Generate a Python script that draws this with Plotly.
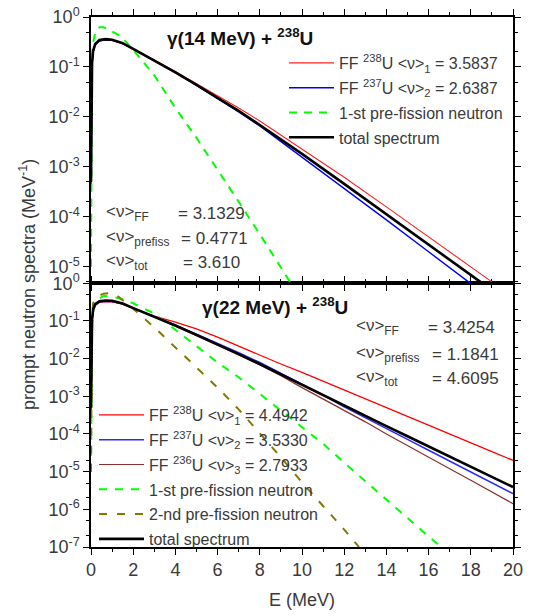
import plotly.graph_objects as go

# ---------------- data ----------------
# top panel: gamma(14 MeV) + 238U
E_top = [0, 0.02, 0.05, 0.1, 0.2, 0.4, 0.7, 1.0, 1.5, 2, 3, 4, 5, 6, 7, 8, 10, 12, 14, 16, 18, 18.6]
top_total = [5e-4, 0.04, 0.12, 0.21, 0.29, 0.345, 0.36, 0.35, 0.30, 0.229, 0.135, 0.0776, 0.0437, 0.024,
             0.0132, 6.9e-3, 1.82e-3, 4.57e-4, 1.12e-4, 2.75e-5, 6.8e-6, 4.5e-6]
E_top_red = [0, 0.02, 0.05, 0.1, 0.2, 0.4, 0.7, 1.0, 1.5, 2, 3, 4, 5, 6, 7, 8, 10, 12, 14, 16, 18, 19]
top_ff238 = [4e-4, 0.035, 0.11, 0.19, 0.27, 0.33, 0.345, 0.34, 0.29, 0.225, 0.138, 0.0813, 0.0468, 0.0269,
             0.0151, 8.3e-3, 2.29e-3, 6.2e-4, 1.58e-4, 3.98e-5, 1.0e-5, 5.0e-6]
E_top_blue = [0, 0.02, 0.05, 0.1, 0.2, 0.4, 0.7, 1.0, 1.5, 2, 3, 4, 5, 6, 7, 8, 10, 12, 14, 16, 18]
top_ff237 = [4e-4, 0.035, 0.11, 0.2, 0.28, 0.335, 0.35, 0.345, 0.295, 0.228, 0.135, 0.0776, 0.0427, 0.0234,
             0.0126, 6.6e-3, 1.58e-3, 3.7e-4, 8.7e-5, 2.0e-5, 4.6e-6]
E_top_pre1 = [0, 0.02, 0.05, 0.1, 0.2, 0.4, 0.6, 0.8, 1.0, 1.3, 1.6, 2, 3, 4, 5, 6, 7, 8, 9, 9.5]
top_pre1 = [1e-5, 0.03, 0.15, 0.3, 0.48, 0.62, 0.62, 0.57, 0.51, 0.44, 0.34, 0.22, 0.068, 0.0151,
            3.8e-3, 8.9e-4, 2.0e-4, 4.5e-5, 1.0e-5, 4.5e-6]

# bottom panel: gamma(22 MeV) + 238U
E_bot = [0, 0.02, 0.05, 0.1, 0.2, 0.4, 0.7, 1.0, 1.5, 2, 3, 4, 5, 6, 7, 8, 9, 10, 11, 12, 13, 14, 15,
         16, 17, 18, 19, 20]
bot_total = [5e-4, 0.04, 0.11, 0.2, 0.28, 0.335, 0.35, 0.345, 0.29, 0.219, 0.132, 0.0759, 0.0427, 0.024,
             0.0132, 7.2e-3, 3.8e-3, 2.0e-3, 1.05e-3, 5.6e-4, 3.0e-4, 1.62e-4, 8.7e-5, 4.7e-5,
             2.5e-5, 1.35e-5, 7.2e-6, 3.9e-6]
bot_ff238 = [4e-4, 0.035, 0.1, 0.18, 0.26, 0.31, 0.325, 0.32, 0.28, 0.215, 0.135, 0.0933, 0.0617, 0.0372,
             0.0214, 0.0126, 7.2e-3, 4.3e-3, 2.5e-3, 1.48e-3, 8.7e-4, 5.0e-4, 2.95e-4, 1.7e-4,
             1.0e-4, 5.9e-5, 3.4e-5, 2.0e-5]
bot_ff237 = [4e-4, 0.035, 0.1, 0.19, 0.27, 0.32, 0.335, 0.33, 0.285, 0.22, 0.132, 0.0776, 0.0447, 0.0257,
             0.0145, 7.9e-3, 4.1e-3, 2.1e-3, 1.07e-3, 5.25e-4, 2.75e-4, 1.41e-4, 7.2e-5, 3.7e-5,
             1.9e-5, 9.8e-6, 5.0e-6, 2.6e-6]
bot_ff236 = [4e-4, 0.035, 0.1, 0.19, 0.27, 0.325, 0.34, 0.335, 0.285, 0.22, 0.13, 0.0724, 0.0407, 0.0229,
             0.0126, 6.8e-3, 3.5e-3, 1.7e-3, 8.5e-4, 4.2e-4, 2.1e-4, 1.0e-4, 5.0e-5, 2.45e-5,
             1.2e-5, 5.9e-6, 2.9e-6, 1.41e-6]
E_bot_pre1 = [0, 0.02, 0.05, 0.1, 0.3, 0.6, 1.0, 1.5, 2, 3, 4, 5, 6, 7, 8, 9, 10, 11, 12, 13, 14, 15,
              16, 16.6]
bot_pre1 = [1e-5, 0.01, 0.08, 0.18, 0.37, 0.46, 0.45, 0.37, 0.295, 0.158, 0.0575, 0.0219, 7.9e-3,
            3.2e-3, 1.15e-3, 4.2e-4, 1.5e-4, 5.5e-5, 1.74e-5, 5.6e-6, 1.8e-6, 5.75e-7, 1.9e-7, 1.0e-7]
E_bot_pre2 = [0, 0.02, 0.05, 0.1, 0.3, 0.6, 0.9, 1.2, 1.5, 2, 3, 4, 5, 6, 7, 8, 9, 10, 11, 12, 12.7]
bot_pre2 = [1e-5, 0.02, 0.12, 0.3, 0.45, 0.53, 0.55, 0.49, 0.36, 0.21, 0.068, 0.02, 6.0e-3, 1.7e-3,
            4.5e-4, 1.05e-4, 2.4e-5, 5.2e-6, 1.26e-6, 2.9e-7, 1.0e-7]

x_ticks = [0, 2, 4, 6, 8, 10, 12, 14, 16, 18, 20]
top_yticks = [1, 1e-1, 1e-2, 1e-3, 1e-4, 1e-5]
top_ytext = ["10<sup>0</sup>", "10<sup>-1</sup>", "10<sup>-2</sup>", "10<sup>-3</sup>",
             "10<sup>-4</sup>", "10<sup>-5</sup>"]
bot_yticks = [1, 1e-1, 1e-2, 1e-3, 1e-4, 1e-5, 1e-6, 1e-7]
bot_ytext = ["10<sup>0</sup>", "10<sup>-1</sup>", "10<sup>-2</sup>", "10<sup>-3</sup>",
             "10<sup>-4</sup>", "10<sup>-5</sup>", "10<sup>-6</sup>", "10<sup>-7</sup>"]

NU = "&lt;ν&gt;"
top_names = [f"FF <sup>238</sup>U {NU}<sub>1</sub> = 3.5837",
             f"FF <sup>237</sup>U {NU}<sub>2</sub> = 2.6387",
             "1-st pre-fission neutron", "total spectrum"]
bot_names = [f"FF <sup>238</sup>U {NU}<sub>1</sub> = 4.4942",
             f"FF <sup>237</sup>U {NU}<sub>2</sub> = 3.5330",
             f"FF <sup>236</sup>U {NU}<sub>3</sub> = 2.7933",
             "1-st pre-fission neutron", "2-nd pre-fission neutron", "total spectrum"]
top_nu_labels = [f"{NU}<sub>FF</sub>", f"{NU}<sub>prefiss</sub>", f"{NU}<sub>tot</sub>"]
top_nu_values = ["= 3.1329", "= 0.4771", "= 3.610"]
bot_nu_labels = [f"{NU}<sub>FF</sub>", f"{NU}<sub>prefiss</sub>", f"{NU}<sub>tot</sub>"]
bot_nu_values = ["= 3.4254", "= 1.1841", "= 4.6095"]

# ---------------- figure ----------------
FONT = "Liberation Sans, Arial, sans-serif"
TXT = "#3a3a3a"
W, H = 536, 616
L, R, T, B = 91, 23, 17, 69
pw, ph = W - L - R, H - T - B


def px(xp):
    return (xp - L) / pw


def py(yp):
    return (H - B - yp) / ph


fig = go.Figure()

# top panel traces (xaxis2 / yaxis2)
fig.add_trace(go.Scatter(x=E_top_red, y=top_ff238, mode="lines", name=top_names[0], legendgroup="t1",
                         line=dict(color="#ff2020", width=1.1), xaxis="x2", yaxis="y2", legend="legend"))
fig.add_trace(go.Scatter(x=E_top_blue, y=top_ff237, mode="lines", name=top_names[1], legendgroup="t2",
                         line=dict(color="#0000ff", width=1.4), xaxis="x2", yaxis="y2", legend="legend"))
fig.add_trace(go.Scatter(x=E_top_pre1, y=top_pre1, mode="lines", name=top_names[2], legendgroup="t3",
                         line=dict(color="#00ff00", width=2, dash="8px,7px"), xaxis="x2", yaxis="y2",
                         legend="legend"))
fig.add_trace(go.Scatter(x=E_top, y=top_total, mode="lines", name=top_names[3], legendgroup="t4",
                         line=dict(color="#000000", width=2.6), xaxis="x2", yaxis="y2", legend="legend"))

# bottom panel traces
fig.add_trace(go.Scatter(x=E_bot, y=bot_ff238, mode="lines", name=bot_names[0], legendgroup="b1",
                         line=dict(color="#ff0000", width=1.3), legend="legend2"))
fig.add_trace(go.Scatter(x=E_bot, y=bot_ff237, mode="lines", name=bot_names[1], legendgroup="b2",
                         line=dict(color="#2a2aff", width=1.5), legend="legend2"))
fig.add_trace(go.Scatter(x=E_bot, y=bot_ff236, mode="lines", name=bot_names[2], legendgroup="b3",
                         line=dict(color="#8b2f2f", width=1.2), legend="legend2"))
fig.add_trace(go.Scatter(x=E_bot_pre1, y=bot_pre1, mode="lines", name=bot_names[3], legendgroup="b4",
                         line=dict(color="#00ff00", width=2, dash="8px,8px"), legend="legend2"))
fig.add_trace(go.Scatter(x=E_bot_pre2, y=bot_pre2, mode="lines", name=bot_names[4], legendgroup="b5",
                         line=dict(color="#857a00", width=2, dash="8px,10px"), legend="legend2"))
fig.add_trace(go.Scatter(x=E_bot, y=bot_total, mode="lines", name=bot_names[5], legendgroup="b6",
                         line=dict(color="#000000", width=2.6), legend="legend2"))

split = (H - B - 283.3) / ph

axis_common = dict(showline=True, linecolor="black", linewidth=1.5, mirror="ticks",
                   ticks="outside", tickcolor="black", tickwidth=1.2, ticklen=6,
                   showgrid=False, zeroline=False, automargin=False,
                   tickfont=dict(family=FONT, size=18, color=TXT))

fig.update_layout(
    template="none",
    width=W, height=H,
    margin=dict(l=L, r=R, t=T, b=B, pad=0),
    paper_bgcolor="white", plot_bgcolor="white",
    font=dict(family=FONT, color=TXT),
    xaxis=dict(range=[0, 20], tickvals=x_ticks, anchor="y", domain=[0, 1],
               minor=dict(dtick=1, ticks="outside", ticklen=3, tickcolor="black", showgrid=False),
               **axis_common),
    yaxis=dict(type="log", range=[-7, 0], domain=[0, split], anchor="x",
               tickvals=bot_yticks, ticktext=bot_ytext,
               minor=dict(ticks="outside", ticklen=3, tickcolor="black", showgrid=False), **axis_common),
    xaxis2=dict(range=[0, 20], tickvals=x_ticks, anchor="y2", domain=[0, 1], showticklabels=False,
                minor=dict(dtick=1, ticks="outside", ticklen=3, tickcolor="black", showgrid=False),
                **axis_common),
    yaxis2=dict(type="log", range=[-5.33, 0], domain=[split, 1], anchor="x2",
                tickvals=top_yticks, ticktext=top_ytext,
                minor=dict(ticks="outside", ticklen=3, tickcolor="black", showgrid=False), **axis_common),
    legend=dict(x=px(284), y=py(46), xanchor="left", yanchor="top", bgcolor="rgba(0,0,0,0)",
                font=dict(family=FONT, size=16, color=TXT), tracegroupgap=1, itemwidth=45,
                traceorder="grouped"),
    legend2=dict(x=px(94), y=py(398), xanchor="left", yanchor="top", bgcolor="rgba(0,0,0,0)",
                 font=dict(family=FONT, size=16, color=TXT), tracegroupgap=1, itemwidth=45,
                 traceorder="grouped"),
    showlegend=True,
)

ann = []
ann.append(dict(text="<b>γ(14 MeV) + <sup>238</sup>U</b>", x=px(240), y=py(37), xref="paper", yref="paper",
                showarrow=False, xanchor="center", yanchor="middle",
                font=dict(family=FONT, size=19, color="#111111")))
ann.append(dict(text="<b>γ(22 MeV) + <sup>238</sup>U</b>", x=px(275), y=py(306), xref="paper", yref="paper",
                showarrow=False, xanchor="center", yanchor="middle",
                font=dict(family=FONT, size=19, color="#111111")))
for lab, val, yy, xv in zip(top_nu_labels, top_nu_values, [213, 238, 262], [176, 179, 181]):
    ann.append(dict(text=lab, x=px(104), y=py(yy), xref="paper", yref="paper", showarrow=False,
                    xanchor="left", yanchor="middle", font=dict(family=FONT, size=17, color=TXT)))
    ann.append(dict(text=val, x=px(xv), y=py(yy), xref="paper", yref="paper", showarrow=False,
                    xanchor="left", yanchor="middle", font=dict(family=FONT, size=17, color=TXT)))
for lab, val, yy, xv in zip(bot_nu_labels, bot_nu_values, [327, 354, 378], [426, 430, 430]):
    ann.append(dict(text=lab, x=px(354), y=py(yy), xref="paper", yref="paper", showarrow=False,
                    xanchor="left", yanchor="middle", font=dict(family=FONT, size=17, color=TXT)))
    ann.append(dict(text=val, x=px(xv), y=py(yy), xref="paper", yref="paper", showarrow=False,
                    xanchor="left", yanchor="middle", font=dict(family=FONT, size=17, color=TXT)))
ann.append(dict(text="E (MeV)", x=px(302), y=py(600), xref="paper", yref="paper", showarrow=False,
                xanchor="center", yanchor="middle", font=dict(family=FONT, size=18, color=TXT)))
ann.append(dict(text="prompt neutron spectra (MeV<sup>-1</sup>)", x=px(27), y=py(285), xref="paper",
                yref="paper", showarrow=False, textangle=-90, xanchor="center", yanchor="middle",
                font=dict(family=FONT, size=18, color=TXT)))
fig.update_layout(annotations=ann)

fig.write_html("out.html", config={"displayModeBar": False},
               post_script="document.body.style.margin='0px';")
